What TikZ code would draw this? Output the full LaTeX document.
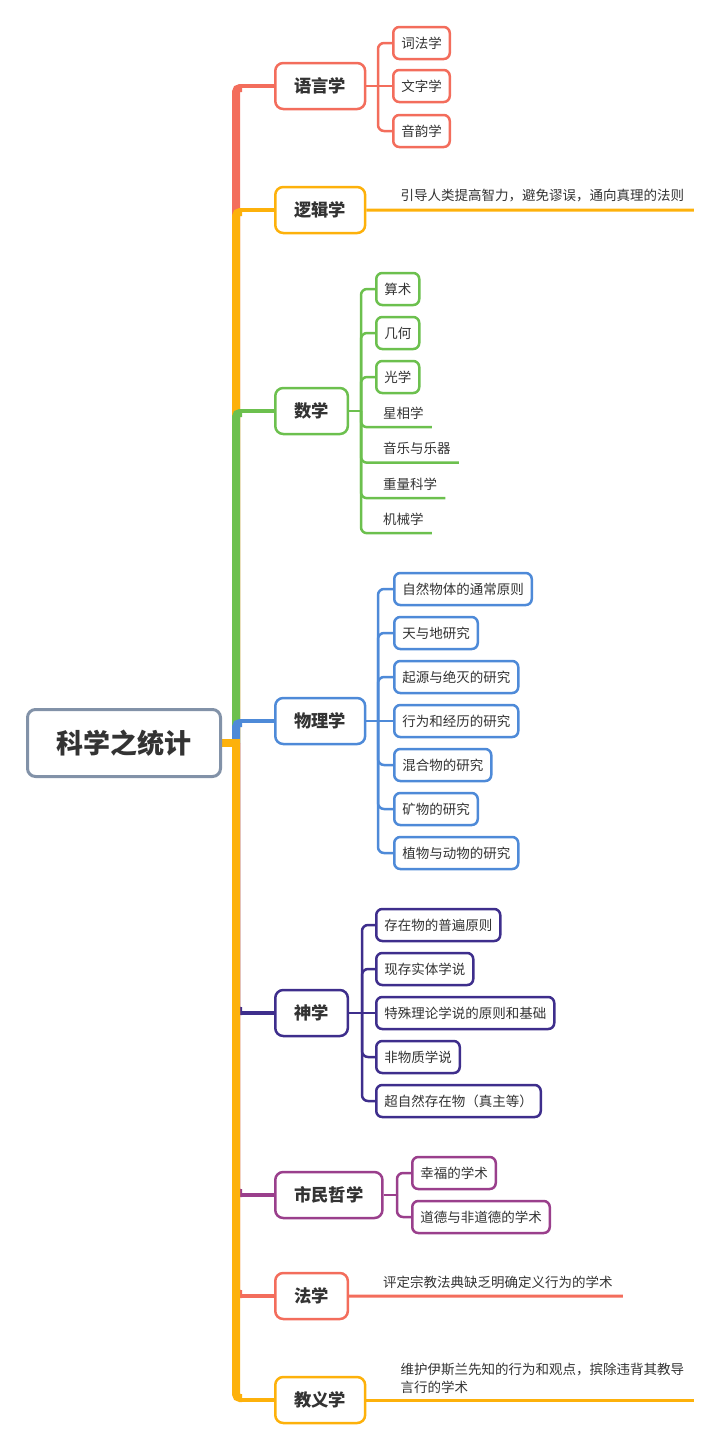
\documentclass[tikz,border=0pt]{standalone}
\usepackage{fontspec}
\newfontfamily\cjk{Noto Sans CJK SC}
\usetikzlibrary{calc,backgrounds}
\definecolor{cred}{HTML}{F36D5C}
\definecolor{corange}{HTML}{FDB10B}
\definecolor{cgreen}{HTML}{6CC04E}
\definecolor{cblue}{HTML}{4E8AD8}
\definecolor{cindigo}{HTML}{3E2E8C}
\definecolor{cmag}{HTML}{9A3F8C}
\definecolor{croot}{HTML}{8292A8}
\definecolor{ctext}{HTML}{333333}
\begin{document}
\begin{tikzpicture}[x=1pt,y=-1pt,font=\cjk,text=ctext,
  rootbox/.style={draw=croot,line width=3,rounded corners=8,fill=white,inner xsep=29,minimum height=67,font=\cjk\bfseries\fontsize{27}{30}\selectfont},
  mainbox/.style={draw=#1,line width=2.5,rounded corners=8,fill=white,inner xsep=19,minimum height=46,anchor=west,font=\cjk\bfseries\fontsize{17.3}{20}\selectfont},
  kidbox/.style={draw=#1,line width=2.5,rounded corners=6,fill=white,inner xsep=8,minimum height=32,anchor=west,font=\cjk\fontsize{13.5}{16}\selectfont},
  uleaf/.style={inner xsep=8,inner ysep=0,minimum height=28,anchor=west,font=\cjk\fontsize{13.5}{16}\selectfont},
  spine/.style={line width=8,rounded corners=4,draw=#1},
  branch/.style={line width=3.5,draw=#1},
  link/.style={line width=2.5,rounded corners=6,draw=#1},
  stub/.style={line width=8,draw=#1}
]
\useasboundingbox (0,0) rectangle (720,1449);

\node[rootbox] (root) at (124,743) {科学之统计};

\node[mainbox=cred] (yy) at (274,86) {语言学};
\node[kidbox=cred] (yy1) at (392,43) {词法学};
\node[kidbox=cred] (yy2) at (392,86) {文字学};
\node[kidbox=cred] (yy3) at (392,131) {音韵学};

\node[mainbox=corange] (lj) at (274,210) {逻辑学};
\node[uleaf,inner xsep=9.5] (lj1) at (391,196) {引导人类提高智力，避免谬误，通向真理的法则};

\node[mainbox=cgreen] (sx) at (274,411) {数学};
\node[kidbox=cgreen] (sx1) at (375,289) {算术};
\node[kidbox=cgreen] (sx2) at (375,333) {几何};
\node[kidbox=cgreen] (sx3) at (375,377) {光学};
\node[uleaf] (sx4) at (375,413) {星相学};
\node[uleaf] (sx5) at (375,448.5) {音乐与乐器};
\node[uleaf] (sx6) at (375,484) {重量科学};
\node[uleaf] (sx7) at (375,519) {机械学};

\node[mainbox=cblue] (wl) at (274,721) {物理学};
\node[kidbox=cblue] (wl1) at (393,589) {自然物体的通常原则};
\node[kidbox=cblue] (wl2) at (393,633) {天与地研究};
\node[kidbox=cblue] (wl3) at (393,677) {起源与绝灭的研究};
\node[kidbox=cblue] (wl4) at (393,721) {行为和经历的研究};
\node[kidbox=cblue] (wl5) at (393,765) {混合物的研究};
\node[kidbox=cblue] (wl6) at (393,809) {矿物的研究};
\node[kidbox=cblue] (wl7) at (393,853) {植物与动物的研究};

\node[mainbox=cindigo] (sh) at (274,1013) {神学};
\node[kidbox=cindigo] (sh1) at (375,925) {存在物的普遍原则};
\node[kidbox=cindigo] (sh2) at (375,969) {现存实体学说};
\node[kidbox=cindigo] (sh3) at (375,1013) {特殊理论学说的原则和基础};
\node[kidbox=cindigo] (sh4) at (375,1057) {非物质学说};
\node[kidbox=cindigo] (sh5) at (375,1101) {超自然存在物（真主等）};

\node[mainbox=cmag] (sm) at (274,1195) {市民哲学};
\node[kidbox=cmag] (sm1) at (411,1173) {幸福的学术};
\node[kidbox=cmag] (sm2) at (411,1217) {道德与非道德的学术};

\node[mainbox=cred] (fx) at (274,1296) {法学};
\node[uleaf,inner xsep=10] (fx1) at (373,1282) {评定宗教法典缺乏明确定义行为的学术};

\node[mainbox=corange] (jy) at (274,1400) {教义学};
\node[uleaf,align=left,minimum height=0,inner xsep=9.5,inner ysep=6,anchor=south west,font=\cjk\fontsize{13.5}{18}\selectfont] (jy1) at (391,1400) {维护伊斯兰先知的行为和观点，摈除违背其教导\\言行的学术};

\begin{scope}[on background layer]
\coordinate (sp) at (236,743);
% main branches above the root
\foreach \n/\c in {yy/cred,lj/corange,sx/cgreen,wl/cblue}{
  \draw[spine=\c] (sp) |- ($(\n.west)+(-32,2)$);
  \draw[branch=\c] ($(\n.west)+(-33,0)$) -- (\n.west);
  \draw[stub=\c] (root.east) -- ($(sp)+(4,0)$);
}
% main branches below the root
\foreach \n/\c in {sh/cindigo,sm/cmag,fx/cred,jy/corange}{
  \draw[spine=\c] (sp) |- ($(\n.west)+(-32,-2)$);
  \draw[branch=\c] ($(\n.west)+(-33,0)$) -- (\n.west);
  \draw[stub=\c] (root.east) -- ($(sp)+(4,0)$);
}
% 语言学
\coordinate (byy) at (378,86);
\draw[link=cred] (yy.east) -- (byy);
\draw[link=cred] (byy) -- (yy2.west);
\foreach \k in {1,3}{\draw[link=cred] (byy) |- (yy\k.west);}
% 逻辑学
\draw[line width=3,corange] (lj.east) -- (lj1.south west) -- (lj1.south east);
% 数学
\coordinate (bsx) at (361,411);
\draw[link=cgreen] (sx.east) -- (bsx);
\foreach \k in {1,2,3}{\draw[link=cgreen] (bsx) |- (sx\k.west);}
\foreach \k in {4,5,6,7}{\draw[link=cgreen] (bsx) |- (sx\k.south east);}
% 物理学
\coordinate (bwl) at (378,721);
\draw[link=cblue] (wl.east) -- (bwl);
\draw[link=cblue] (bwl) -- (wl4.west);
\foreach \k in {1,2,3,5,6,7}{\draw[link=cblue] (bwl) |- (wl\k.west);}
% 神学
\coordinate (bsh) at (362,1013);
\draw[link=cindigo] (sh.east) -- (bsh);
\draw[link=cindigo] (bsh) -- (sh3.west);
\foreach \k in {1,2,4,5}{\draw[link=cindigo] (bsh) |- (sh\k.west);}
% 市民哲学
\coordinate (bsm) at (397,1195);
\draw[link=cmag] (sm.east) -- (bsm);
\foreach \k in {1,2}{\draw[link=cmag] (bsm) |- (sm\k.west);}
% 法学
\draw[line width=3,cred] (fx.east) -- (fx1.south west) -- (fx1.south east);
% 教义学
\draw[line width=3,corange] (jy.east) -- (jy1.south west) -- (jy1.south east);
\end{scope}
\end{tikzpicture}
\end{document}
